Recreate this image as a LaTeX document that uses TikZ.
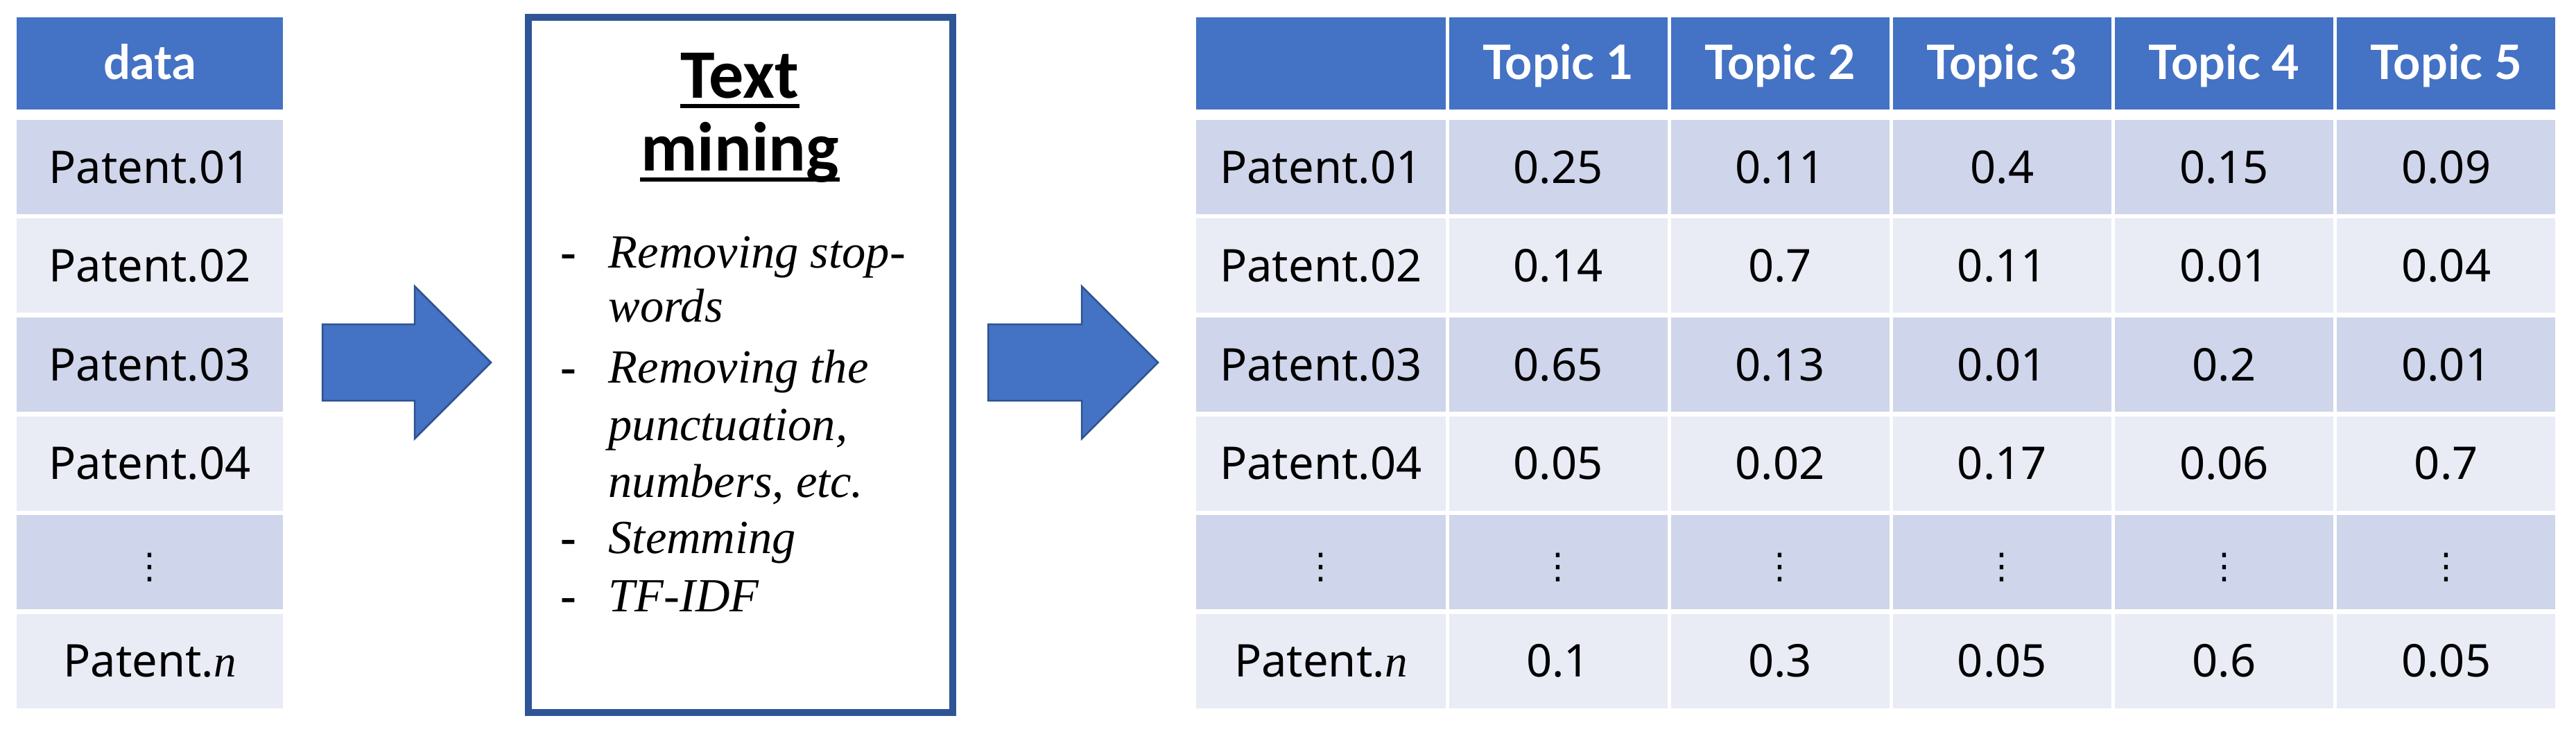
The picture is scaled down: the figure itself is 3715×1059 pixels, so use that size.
\documentclass[tikz,border=0pt]{standalone}
\usepackage{fontspec}
\setmainfont{Noto Sans}
\newfontfamily\hdrfont{Lato}
\newfontfamily\titlefont{Carlito}
\newfontfamily\serifit{Liberation Serif}
\newfontfamily\symfont{DejaVu Sans}
\definecolor{hdr}{HTML}{4472C4}
\definecolor{rowA}{HTML}{CFD5EA}
\definecolor{rowB}{HTML}{E9EBF5}
\definecolor{boxblue}{HTML}{2F5597}
\definecolor{arrowline}{HTML}{2F528F}
\newcommand\vdts{{\symfont\fontsize{14.5}{14.5}\selectfont ⋮}}
\newcommand\patentn{Patent.{\serifit\itshape n}}
\begin{document}
\begin{tikzpicture}[x=0.1mm,y=-0.1mm,
  cellbase/.style={anchor=north west, inner sep=0pt, outer sep=0pt, text height=13.2pt, text depth=0pt, font=\fontsize{18.5}{22}\selectfont},
  hdrcell/.style={cellbase, fill=hdr, text=white, font=\hdrfont\bfseries\fontsize{19.5}{22}\selectfont},
  blockarrow/.style={fill=hdr, draw=arrowline, line width=0.25mm, line join=miter},
  itemtxt/.style={anchor=base west, inner sep=0pt, font=\serifit\itshape\fontsize{19.5}{23.5}\selectfont},
  dashtxt/.style={anchor=base west, inner sep=0pt, font=\serifit\bfseries\fontsize{19.5}{23.5}\selectfont},
  titletxt/.style={anchor=base, inner sep=0pt, font=\titlefont\bfseries\fontsize{28.5}{30}\selectfont},
  uline/.style={line width=0.55mm}
]
\useasboundingbox[fill=white] (0,0) rectangle (3715,1059);

% ---------- left table ----------
\node[hdrcell, minimum width=38.4mm, minimum height=13.3mm] (L0) at (24,25) {data};
\foreach \r/\col/\txt in {1/rowA/Patent.01, 2/rowB/Patent.02, 3/rowA/Patent.03, 4/rowB/Patent.04, 5/rowA/\vdts, 6/rowB/\patentn}
  \node[cellbase, fill=\col, minimum width=38.4mm, minimum height=13.6mm] (L\r) at (24,{173+142.5*(\r-1)}) {\txt};

% ---------- arrow 1 ----------
\path[blockarrow] (465,468) -- (598,468) -- (598,413) -- (708,523) -- (598,633) -- (598,578) -- (465,578) -- cycle;

% ---------- text mining box ----------
\node[draw=boxblue, line width=1.0mm, fill=white, anchor=north west, inner sep=0pt, outer sep=0pt,
      minimum width=61.2mm, minimum height=100.3mm] (tm) at (762,25) {};
\node[titletxt] (t1) at (1067,142) {Text};
\node[titletxt] (t2) at (1067,247) {mining};
\draw[uline] ([yshift=-1.1mm]t1.base west) -- ([yshift=-1.1mm]t1.base east);
\draw[uline] ([yshift=-1.2mm]t2.base west) -- ([yshift=-1.2mm]t2.base east);

\node[dashtxt] (d1) at (808,387) {-};
\node[dashtxt] (d2) at (808,552) {-};
\node[dashtxt] (d3) at (808,798) {-};
\node[dashtxt] (d4) at (808,882) {-};
\node[itemtxt] (i1a) at (877,387) {Removing stop-};
\node[itemtxt] (i1b) at (877,465) {words};
\node[itemtxt] (i2a) at (877,552) {Removing the};
\node[itemtxt] (i2b) at (877,635) {punctuation,};
\node[itemtxt] (i2c) at (877,717) {numbers, etc.};
\node[itemtxt] (i3) at (877,798) {Stemming};
\node[itemtxt] (i4) at (877,882) {TF-IDF};

% ---------- arrow 2 ----------
\path[blockarrow] (1425,468) -- (1560,468) -- (1560,413) -- (1670,523) -- (1560,633) -- (1560,578) -- (1425,578) -- cycle;

% ---------- right table ----------
\node[hdrcell, minimum width=35.95mm, minimum height=13.3mm] (R0-0) at (1725,25) {};
\foreach \c in {1,...,5}
  \node[hdrcell, minimum width=31.5mm, minimum height=13.3mm] (R0-\c) at ({2089.5+320.2*(\c-1)},25) {Topic \c};

\foreach \r/\col/\nm/\pa/\pb/\pc/\pd/\pe in {
  1/rowA/Patent.01/0.25/0.11/0.4/0.15/0.09,
  2/rowB/Patent.02/0.14/0.7/0.11/0.01/0.04,
  3/rowA/Patent.03/0.65/0.13/0.01/0.2/0.01,
  4/rowB/Patent.04/0.05/0.02/0.17/0.06/0.7,
  5/rowA/\vdts/\vdts/\vdts/\vdts/\vdts/\vdts,
  6/rowB/\patentn/0.1/0.3/0.05/0.6/0.05}{
  \node[cellbase, fill=\col, minimum width=35.95mm, minimum height=13.6mm] (R\r-0) at (1725,{173+142.5*(\r-1)}) {\nm};
  \foreach \c/\v in {1/\pa,2/\pb,3/\pc,4/\pd,5/\pe}
    \node[cellbase, fill=\col, minimum width=31.5mm, minimum height=13.6mm] (R\r-\c) at ({2089.5+320.2*(\c-1)},{173+142.5*(\r-1)}) {\v};
}
\end{tikzpicture}
\end{document}
